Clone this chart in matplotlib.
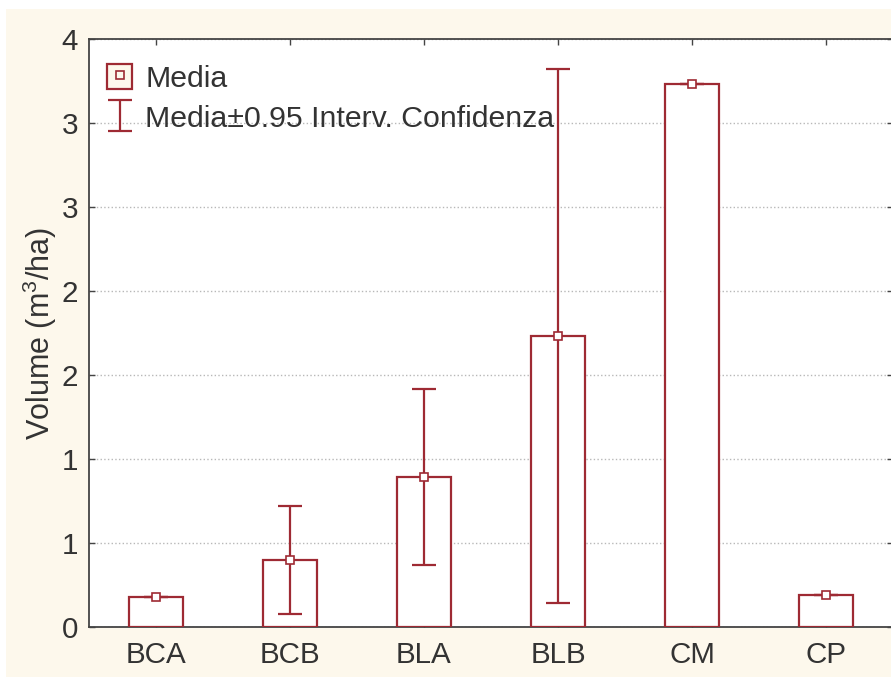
"""Bar chart with mean markers and 95% CI error bars (volume per stand type)."""

import matplotlib
matplotlib.use("Agg")
import matplotlib.pyplot as plt
from matplotlib.patches import Patch, Rectangle
from matplotlib.lines import Line2D
from matplotlib.legend_handler import HandlerTuple

plt.rcParams["font.family"] = ["Liberation Sans", "DejaVu Sans"]
plt.rcParams["mathtext.fontset"] = "custom"
plt.rcParams["mathtext.rm"] = "Liberation Sans"
plt.rcParams["mathtext.it"] = "Liberation Sans"
plt.rcParams["mathtext.default"] = "regular"

categories = ["BCA", "BCB", "BLA", "BLB", "CM", "CP"]
means = [0.18, 0.40, 0.895, 1.73, 3.235, 0.19]
ci_low = [0.18, 0.08, 0.37, 0.14, 3.235, 0.19]
ci_high = [0.18, 0.72, 1.415, 3.32, 3.235, 0.19]

y_ticks = [0, 0.5, 1.0, 1.5, 2.0, 2.5, 3.0, 3.5]
y_ticklabels = ["0", "1", "1", "2", "2", "3", "3", "4"]

RED = "#9e2a33"
CREAM = "#fdf8ec"
TEXT = "#333333"
FS = 21.3

W, H = 891, 677
fig = plt.figure(figsize=(W / 100, H / 100), dpi=100, facecolor="white")
# cream panel behind the plot (thin white strip on top and left)
fig.patches.append(Rectangle((6 / W, 0), 1 - 6 / W, 1 - 9 / H,
                             transform=fig.transFigure, facecolor=CREAM,
                             edgecolor="none", zorder=-5))

ax = fig.add_axes([89 / W, 50 / H, 804 / W, 588 / H])
ax.set_facecolor("white")

x = list(range(len(categories)))
ax.bar(x, means, width=0.4, facecolor="white", edgecolor=RED,
       linewidth=1.6, zorder=3)

yerr = [[m - lo for m, lo in zip(means, ci_low)],
        [hi - m for m, hi in zip(means, ci_high)]]
eb = ax.errorbar(x, means, yerr=yerr, fmt="none", ecolor=RED,
                 elinewidth=1.6, capsize=8.6, capthick=1.6, zorder=4)
ax.plot(x, means, linestyle="none", marker="s", markersize=6,
        markerfacecolor="white", markeredgecolor=RED, markeredgewidth=1.2,
        zorder=5)

ax.set_xlim(-0.5, 5.5)
ax.set_ylim(0, 3.5)
ax.set_xticks(x)
ax.set_xticklabels(categories)
ax.set_yticks(y_ticks)
ax.set_yticklabels(y_ticklabels)

ax.tick_params(direction="in", top=True, right=True, length=4, width=1,
               color="#444444", labelcolor=TEXT, labelsize=FS)
ax.tick_params(axis="x", pad=10)
ax.tick_params(axis="y", pad=8)
ax.grid(True, axis="y", linestyle=":", color="#b8b8b8", linewidth=1, zorder=1)
ax.set_axisbelow(True)

for side in ["left", "bottom", "top"]:
    ax.spines[side].set_color("#444444")
    ax.spines[side].set_linewidth(1.3)
ax.spines["right"].set_visible(False)

ax.set_ylabel("Volume (m$^3$/ha)", fontsize=22, color=TEXT, labelpad=2)

# legend: bar box with mean marker, and error bar symbol
box = Patch(facecolor=CREAM, edgecolor=RED, linewidth=1.6)
mark = Line2D([], [], linestyle="none", marker="s", markersize=6,
              markerfacecolor=CREAM, markeredgecolor=RED, markeredgewidth=1.2)
leg = ax.legend([(box, mark), eb],
                ["Media", "Media±0.95 Interv. Confidenza"],
                handler_map={tuple: HandlerTuple(ndivide=1)},
                loc="upper left", bbox_to_anchor=(0.0224, 0.958),
                frameon=False, fontsize=21.8, borderpad=0, borderaxespad=0,
                handlelength=0.83, handleheight=0.93, handletextpad=0.44,
                labelspacing=0.36, labelcolor=TEXT)

fig.savefig("out.png", dpi=100, facecolor=fig.get_facecolor())
